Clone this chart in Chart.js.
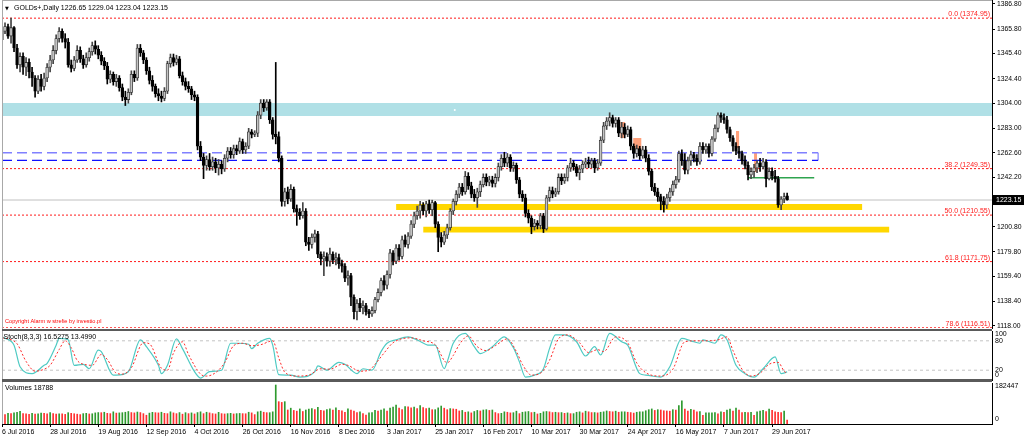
<!DOCTYPE html>
<html>
<head>
<meta charset="utf-8">
<title>GOLDs+ Daily</title>
<script src="https://cdn.jsdelivr.net/npm/chart.js@4.4.1/dist/chart.umd.min.js"></script>
<style>
html,body{margin:0;padding:0;background:#fff;}
#wrap{position:relative;width:1024px;height:440px;overflow:hidden;background:#fff;}
#wrap canvas{position:absolute;left:0;}
.sep{position:absolute;}
</style>
</head>
<body>
<div id="wrap">
  <canvas id="cMain" width="1024" height="329" style="top:0px"></canvas>
  <canvas id="cStoch" width="1024" height="53" style="top:329px"></canvas>
  <canvas id="cVol" width="1024" height="59" style="top:381px"></canvas>
  <div class="sep" style="left:2px;top:0;width:990px;height:1px;background:#a8a8a8"></div>
  <div class="sep" style="left:2px;top:0;width:1px;height:424px;background:#a8a8a8"></div>
  <div class="sep" style="left:2px;top:329px;width:990px;height:2px;background:#5a5a5a"></div>
  <div class="sep" style="left:2px;top:379px;width:990px;height:3px;background:#5a5a5a"></div>
</div>
<script>
const FONT = '"Liberation Sans", Arial, sans-serif';
Chart.defaults.font.family = FONT;
Chart.defaults.font.size = 7;
Chart.defaults.color = '#000';

// ---------------- data ----------------
const symbolName = 'GOLDs+';
const periodName = 'Daily';
const copyrightText = 'Copyright Alarm w strefie by investio.pl';

const barOpen = [
1357,1364,1368,1360,1367,1350,1336,1343,1334,1338,
1330,1325,1314,1324,1318,1325,1334,1340,1348,1358,
1364,1358,1355,1336,1333,1340,1348,1341,1336,1342,
1347,1352,1349,1344,1339,1335,1324,1328,1322,1325,
1317,1309,1307,1313,1328,1325,1350,1346,1340,1331,
1323,1318,1312,1310,1308,1314,1337,1342,1338,1341,
1327,1322,1318,1316,1311,1309,1268,1259,1252,1257,
1251,1255,1250,1253,1249,1258,1264,1261,1266,1264,
1272,1265,1268,1280,1278,1279,1294,1304,1300,1305,
1290,1278,1276,1258,1222,1230,1224,1232,1216,1213,
1210,1214,1188,1186,1192,1195,1178,1174,1176,1172,
1178,1173,1175,1170,1168,1158,1160,1142,1130,1137,
1133,1135,1130,1128,1131,1140,1146,1156,1152,1161,
1179,1172,1183,1176,1190,1186,1193,1203,1210,1214,
1219,1214,1220,1215,1221,1203,1192,1188,1194,1200,
1214,1222,1228,1234,1230,1243,1235,1228,1225,1230,
1236,1242,1238,1240,1237,1242,1251,1258,1254,1259,
1250,1252,1240,1228,1225,1212,1208,1201,1204,1202,
1210,1199,1225,1231,1228,1230,1242,1239,1242,1250,
1254,1251,1246,1249,1253,1255,1253,1256,1250,1254,
1273,1285,1289,1292,1287,1290,1279,1284,1278,1282,
1268,1262,1266,1260,1265,1258,1247,1234,1230,1226,
1222,1219,1225,1230,1236,1240,1262,1256,1248,1256,
1261,1258,1255,1268,1265,1268,1262,1274,1283,1294,
1292,1290,1282,1275,1268,1264,1262,1256,1252,1244,
1247,1250,1254,1251,1255,1241,1247,1243,1241,1219,
1224,1226.65];
const barHigh = [
1367,1371,1370,1375,1368,1353,1346,1346,1342,1341,
1334,1327,1327,1328,1329,1337,1344,1352,1361,1367,
1366,1362,1358,1340,1343,1352,1351,1344,1346,1350,
1355,1356,1352,1347,1342,1338,1331,1330,1328,1327,
1320,1314,1316,1331,1331,1353,1353,1348,1342,1334,
1327,1320,1316,1314,1317,1339,1345,1345,1344,1343,
1330,1325,1322,1318,1314,1311,1272,1262,1260,1262,
1259,1258,1257,1256,1261,1267,1267,1269,1269,1275,
1274,1271,1283,1282,1281,1297,1307,1307,1307,1307,
1292,1338,1280,1260,1233,1234,1236,1234,1219,1216,
1221,1216,1192,1195,1198,1197,1180,1180,1179,1183,
1180,1179,1178,1173,1170,1164,1162,1144,1140,1141,
1139,1137,1132,1134,1142,1149,1158,1160,1164,1182,
1181,1186,1186,1193,1194,1196,1206,1213,1218,1222,
1221,1222,1223,1223,1222,1205,1196,1197,1203,1216,
1224,1231,1237,1237,1247,1246,1238,1232,1233,1239,
1245,1245,1243,1243,1245,1254,1261,1263,1262,1261,
1255,1254,1242,1231,1228,1215,1210,1207,1206,1212,
1212,1227,1234,1234,1233,1245,1245,1245,1252,1258,
1256,1253,1252,1256,1258,1259,1258,1258,1257,1276,
1288,1292,1296,1294,1292,1292,1288,1287,1285,1284,
1270,1269,1268,1268,1268,1261,1249,1237,1233,1228,
1226,1228,1233,1239,1243,1264,1265,1262,1259,1264,
1263,1261,1271,1271,1270,1270,1276,1286,1296,1296,
1295,1293,1284,1277,1271,1268,1264,1260,1255,1250,
1253,1256,1258,1258,1257,1250,1250,1248,1243,1226,
1229,1229.04];
const barLow = [
1352,1362,1358,1354,1347,1333,1330,1328,1327,1325,
1318,1309,1312,1314,1315,1322,1330,1337,1345,1355,
1355,1350,1334,1330,1331,1338,1338,1333,1334,1339,
1344,1345,1341,1336,1332,1320,1321,1319,1318,1314,
1306,1302,1304,1311,1322,1323,1343,1337,1328,1320,
1314,1309,1306,1305,1306,1312,1334,1335,1336,1325,
1319,1315,1313,1307,1306,1265,1256,1241,1248,1248,
1248,1246,1244,1245,1247,1255,1258,1258,1261,1262,
1262,1262,1266,1275,1276,1276,1291,1297,1298,1287,
1274,1270,1255,1218,1218,1220,1222,1213,1202,1207,
1208,1185,1181,1183,1188,1175,1169,1160,1168,1168,
1170,1169,1166,1163,1155,1152,1135,1124,1123,1130,
1128,1127,1125,1126,1129,1138,1143,1148,1149,1158,
1169,1170,1173,1174,1184,1183,1191,1200,1207,1208,
1211,1209,1212,1210,1200,1180,1184,1186,1191,1198,
1211,1219,1225,1227,1228,1232,1225,1222,1217,1226,
1234,1235,1235,1234,1234,1239,1248,1251,1251,1247,
1247,1237,1225,1222,1209,1204,1195,1198,1199,1199,
1196,1198,1222,1225,1226,1228,1236,1237,1239,1247,
1248,1243,1240,1246,1250,1250,1250,1246,1248,1252,
1271,1282,1285,1284,1284,1276,1275,1275,1276,1265,
1258,1259,1257,1258,1255,1244,1231,1227,1222,1215,
1213,1216,1222,1227,1233,1238,1252,1245,1245,1252,
1255,1252,1253,1262,1262,1259,1260,1272,1280,1288,
1287,1279,1272,1264,1261,1258,1253,1249,1240,1241,
1242,1246,1247,1249,1234,1240,1240,1238,1217,1215,
1221,1223.04];
const barClose = [
1364,1368,1360,1367,1350,1336,1343,1334,1338,1330,
1325,1314,1324,1318,1325,1334,1340,1348,1358,1364,
1358,1355,1336,1333,1340,1348,1341,1336,1342,1347,
1352,1349,1344,1339,1335,1324,1328,1322,1325,1317,
1309,1307,1313,1328,1325,1350,1346,1340,1331,1323,
1318,1312,1310,1308,1314,1337,1342,1338,1341,1327,
1322,1318,1316,1311,1309,1268,1259,1252,1257,1251,
1255,1250,1253,1249,1258,1264,1261,1266,1264,1272,
1265,1268,1280,1278,1279,1294,1304,1300,1305,1290,
1278,1276,1258,1222,1230,1224,1232,1216,1213,1210,
1214,1188,1186,1192,1195,1178,1174,1176,1172,1178,
1173,1175,1170,1168,1158,1160,1142,1130,1137,1133,
1135,1130,1128,1131,1140,1146,1156,1152,1161,1179,
1172,1183,1176,1190,1186,1193,1203,1210,1214,1219,
1214,1220,1215,1221,1203,1192,1188,1194,1200,1214,
1222,1228,1234,1230,1243,1235,1228,1225,1230,1236,
1242,1238,1240,1237,1242,1251,1258,1254,1259,1250,
1252,1240,1228,1225,1212,1208,1201,1204,1202,1210,
1199,1225,1231,1228,1230,1242,1239,1242,1250,1254,
1251,1246,1249,1253,1255,1253,1256,1250,1254,1273,
1285,1289,1292,1287,1290,1279,1284,1278,1282,1268,
1262,1266,1260,1265,1258,1247,1234,1230,1226,1222,
1219,1225,1230,1236,1240,1262,1256,1248,1256,1261,
1258,1255,1268,1265,1268,1262,1274,1283,1294,1292,
1290,1282,1275,1268,1264,1262,1256,1252,1244,1247,
1250,1254,1251,1255,1241,1247,1243,1241,1219,1224,
1226,1223.15];

const volumes = [
48000,44000,50000,48500,52000,55000,59500,48500,47000,45000,
49500,46000,48000,51000,49500,47000,53500,48500,46000,48000,
47000,45000,53000,50000,48000,46000,44000,48500,50000,47000,
48000,52000,53500,53000,55000,50000,48500,57000,51000,52000,
53000,55000,58500,53500,52000,56000,53500,48500,41000,51000,
54500,53000,52000,55000,50000,48500,57000,52000,48500,53500,
46000,53000,48500,52000,47000,53500,57000,48500,55000,52000,
48500,47000,54500,48500,47000,48500,50000,47000,48500,49500,
48500,48000,55000,52000,44000,57000,60000,55000,53000,53000,
57000,182447,104500,101000,104500,65500,74000,63500,60000,70500,
58500,65500,69500,72000,67000,78000,63500,62000,67000,70500,
65500,75500,63500,62000,55000,70500,65500,60000,53500,57000,
48500,42000,52000,53500,63500,60000,65500,70500,61000,74000,
79000,89000,74000,67000,82000,80500,75500,79000,72000,86500,
77000,72000,74000,67000,67000,75500,84000,74000,67000,72000,
70500,69000,61000,63500,55000,57000,52000,58500,63500,61000,
65500,67000,63500,65500,53500,48500,50000,57000,55000,52000,
53000,60000,48500,55000,57000,58500,53500,55000,47000,50000,
57000,58500,57000,53500,55000,53000,53500,50000,52000,48500,
48500,55000,57000,52000,60000,57000,53500,53500,52000,55000,
57000,61000,58500,57000,60000,55000,57000,57000,55000,53500,
51000,55000,57000,57000,62000,67000,70500,63500,67000,65500,
62000,61000,60000,67000,65500,86500,108000,69500,61000,69000,
65500,57000,58500,40000,52000,52000,52000,53500,47000,57000,
55000,65500,69500,60000,74000,65500,53000,55000,53500,55000,
40000,57000,61000,63500,58500,69500,63500,57000,55000,53000,
61000,18788];

const stochParams = '8,3,3';
const stochKBars = [0,1,4,6,10,14,15,18,19,22,24,27,29,32,33,37,38,42,46,48,52,53,55,58,60,64,66,69,73,76,78,82,83,85,89,90,92,96,99,104,105,108,112,114,118,120,123,126,128,131,135,138,142,144,147,148,150,154,157,159,163,167,170,172,174,177,180,182,184,187,191,194,197,199,202,206,208,212,214,219,222,226,229,232,233,237,239,241,244,247,250,253,257,259,261];
const stochKValues = [88,85,71,27,13,30,34,71,85,82,30,32,23,61,58,10,10,17,82,68,30,13,30,84,64,17,4,17,20,75,75,73,64,75,85,71,11,10,6,17,29,20,36,32,13,23,20,58,75,82,88,82,71,71,23,37,75,95,68,54,68,88,66,37,6,10,23,64,92,92,78,49,68,51,95,78,71,13,10,6,27,85,80,75,82,75,92,82,30,13,6,23,47,13,16.5275];
const stochDBars = [0,2,5,8,11,14,16,19,21,23,25,28,30,33,35,38,40,43,47,49,53,55,57,60,62,66,68,71,74,77,80,83,86,90,92,94,98,102,106,109,113,115,119,122,124,127,130,136,140,144,148,150,152,155,158,161,164,168,171,173,176,179,182,185,188,192,195,198,200,204,208,211,214,219,223,227,231,234,238,241,243,246,249,252,255,258,260,261];
const stochDValues = [86,84,74,38,18,22,30,62,80,66,40,31,30,52,42,14,12,25,76,74,24,20,55,78,52,12,8,15,35,70,75,70,72,80,45,16,8,10,23,22,32,30,18,20,32,55,76,86,80,72,35,50,72,90,68,60,70,84,58,32,10,14,40,84,92,76,56,62,58,88,76,35,15,8,22,78,80,80,82,88,60,22,8,14,32,36,18,13.499];
const stochLabelTicks = [100, 80, 20, 0];
const stochLevels = [80, 20];

const dateTickLabels = ['6 Jul 2016','28 Jul 2016','19 Aug 2016','12 Sep 2016','4 Oct 2016','26 Oct 2016','16 Nov 2016','8 Dec 2016','3 Jan 2017','25 Jan 2017','16 Feb 2017','10 Mar 2017','30 Mar 2017','24 Apr 2017','16 May 2017','7 Jun 2017','29 Jun 2017'];
const dateTickEvery = 16;
const priceTicks = [1386.80,1365.80,1345.40,1324.40,1304.00,1283.00,1262.60,1242.20,1221.80,1200.80,1179.80,1159.40,1138.40,1118.00];
const volumeLabelTicks = [182447, 0];

const fibLevels = [0.0, 38.2, 50.0, 61.8, 78.6];
const fibPrices = [1374.95, 1249.35, 1210.55, 1171.75, 1116.51];

// drawn objects, in bar-index / price units
const resistanceZone = [1293.3, 1304.2];
const yellowStart = [131, 140];
const yellowEnd = [286, 295];
const yellowLow = [1214.8, 1196.0];
const yellowHigh = [1219.8, 1200.9];
const blueLevels = [1262.6, 1256.3];
const blueEnd = 271.3;
const greenLevel = 1241.8;
const greenStart = 248;
const greenEnd = 270;
const orangeStart = [205.5, 209.8, 244.0, 250.0];
const orangeEnd = [207.2, 212.6, 245.1, 251.0];
const orangeLow = [1275.0, 1262.4, 1266.6, 1246.5];
const orangeHigh = [1288.3, 1275.0, 1280.8, 1263.2];
const markerBar = 150.5, markerPrice = 1298.3;

// ---------------- helpers ----------------
const X_MIN = 0, X_MAX = 329.1;
const N = barClose.length - 1;

function hLine(x1, x2, v, color, width, dash, order) {
  return {type:'line', data:[{x:x1,y:v},{x:x2,y:v}], borderColor:color, borderWidth:width,
    borderDash:dash||[], pointRadius:0, pointHoverRadius:0, fill:false, tension:0, order:order};
}
function band(x1, x2, lo, hi, color, order) {
  return {type:'line', data:[{x:x1,y:hi},{x:x2,y:hi}], borderWidth:0, borderColor:'rgba(0,0,0,0)',
    backgroundColor:color, pointRadius:0, pointHoverRadius:0, fill:{value:lo}, tension:0, order:order};
}
function hiddenX() {
  return {type:'linear', min:X_MIN, max:X_MAX, offset:false, display:false, grid:{offset:false}};
}
function rightY(min, max) {
  return {type:'linear', position:'right', min:min, max:max, beginAtZero:false,
    ticks:{display:false}, grid:{display:false},
    border:{display:true, color:'#000', width:1},
    afterFit: s => { s.width = 32; s.paddingTop = 0; s.paddingBottom = 0; }};
}
function clampLabel(py, area) {
  return Math.min(Math.max(py, area.top + 3.5), area.bottom - 4.5);
}

// ---------------- main chart ----------------
const bull = barClose.map((c,i)=> c >= barOpen[i]);
const wickData = barHigh.map((h,i)=>({x:i, y:[barLow[i], h]}));
const bodyData = barClose.map((c,i)=>({x:i, y:[Math.min(c,barOpen[i]), Math.max(c,barOpen[i])]}));

const mainSets = [];
mainSets.push(band(X_MIN, X_MAX, resistanceZone[0], resistanceZone[1], '#b0e0e6', 100));
yellowStart.forEach((s,k)=> mainSets.push(band(s, yellowEnd[k], yellowLow[k], yellowHigh[k], '#ffd700', 90)));
orangeStart.forEach((s,k)=> mainSets.push(band(s, orangeEnd[k], orangeLow[k], orangeHigh[k], '#ffa07a', 85)));
mainSets.push(hLine(X_MIN, X_MAX, barClose[N], '#c0c0c0', 1, [], 70));
fibPrices.forEach(p=> mainSets.push(hLine(X_MIN, X_MAX, p, '#ff1a1a', 1, [2,2], 60)));
mainSets.push(hLine(X_MIN, blueEnd, blueLevels[0], '#8080ff', 1.6, [10,5], 50));
mainSets.push(hLine(X_MIN, blueEnd, blueLevels[1], '#1010ff', 1.2, [10,5], 50));
mainSets.push({type:'line', data:[{x:blueEnd,y:blueLevels[0]},{x:blueEnd,y:blueLevels[1]}], borderColor:'#8080ff', borderWidth:1.2, pointRadius:0, pointHoverRadius:0, fill:false, order:50});
mainSets.push(hLine(greenStart, greenEnd, greenLevel, '#2ea44f', 1.5, [], 40));
mainSets.push({type:'bar', data:wickData, backgroundColor: bull.map(b=> b ? '#444' : '#000'),
  barThickness:1, grouped:false, minBarLength:1, order:20});
mainSets.push({type:'bar', data:bodyData, backgroundColor: bull.map(b=> b ? '#c4c4c4' : '#000'),
  borderColor: bull.map(b=> b ? '#333' : '#000'), borderWidth:0.8, borderSkipped:false,
  barThickness:2.8, grouped:false, minBarLength:1, order:10});
mainSets.push({type:'scatter', data:[{x:markerBar, y:markerPrice}], pointRadius:1, pointHoverRadius:0, pointBackgroundColor:'#fff', pointBorderWidth:0, order:5});

const mainText = {
  id:'mainText',
  afterDraw(chart) {
    const {ctx, chartArea, scales:{y}} = chart;
    ctx.save();
    ctx.font = '7px ' + FONT;
    ctx.fillStyle = '#ff2020'; ctx.textAlign = 'right'; ctx.textBaseline = 'bottom';
    fibPrices.forEach((p,k)=>{
      const py = y.getPixelForValue(p);
      ctx.fillText(fibLevels[k].toFixed(1) + ' (' + p.toFixed(2) + ')', chartArea.right - 2, py - 0.5);
    });
    ctx.fillStyle = '#000'; ctx.textAlign = 'left'; ctx.textBaseline = 'middle';
    ctx.fillText(symbolName + ',' + periodName + ' ' +
      [barOpen[N], barHigh[N], barLow[N], barClose[N]].map(v=>v.toFixed(2)).join(' '), 14, 8.5);
    ctx.font = '5px "DejaVu Sans"';
    ctx.fillText('\u25BC', 5, 8.5);
    ctx.font = '5.6px ' + FONT; ctx.fillStyle = '#ff0000';
    ctx.fillText(copyrightText, 5, chartArea.bottom - 6.5);
    // bid label
    const py = y.getPixelForValue(barClose[N]);
    ctx.fillStyle = '#000'; ctx.fillRect(chartArea.right + 1, py - 5, 31, 10);
    ctx.fillStyle = '#fff'; ctx.font = '7px ' + FONT;
    ctx.fillText(barClose[N].toFixed(2), chartArea.right + 4, py + 0.5);
    ctx.restore();
  }
};

new Chart(document.getElementById('cMain'), {
  type:'bar',
  data:{datasets: mainSets},
  options:{
    responsive:false, animation:false, devicePixelRatio:1, events:[],
    layout:{autoPadding:false, padding:{left:2, top:0, right:0, bottom:1}},
    plugins:{legend:{display:false}, tooltip:{enabled:false}},
    scales:{
      x: hiddenX(),
      y: {type:'linear', position:'right', min:1116.32, max:1390.1, beginAtZero:false,
        afterBuildTicks: s => { s.ticks = priceTicks.map(v=>({value:v})); },
        afterFit: s => { s.width = 32; s.paddingTop = 0; s.paddingBottom = 0; },
        ticks:{autoSkip:false, padding:2, font:{size:6.8}, color:'#000', callback: v => Number(v).toFixed(2)},
        grid:{drawOnChartArea:false, drawTicks:true, tickLength:3, color:'#000'},
        border:{display:true, color:'#000', width:1}}
    }
  },
  plugins:[mainText]
});

// ---------------- stochastic ----------------
const stochText = {
  id:'stochText',
  afterDraw(chart) {
    const {ctx, chartArea, scales:{y}} = chart;
    ctx.save();
    ctx.font = '7px ' + FONT; ctx.fillStyle = '#000';
    ctx.textAlign = 'left'; ctx.textBaseline = 'middle';
    ctx.fillText('Stoch(' + stochParams + ') ' + stochKValues[stochKValues.length-1].toFixed(4) + ' ' +
      stochDValues[stochDValues.length-1].toFixed(4), 3.5, chartArea.top + 6);
    stochLabelTicks.forEach(v=>{
      ctx.fillText(String(v), chartArea.right + 3, clampLabel(y.getPixelForValue(v), chartArea));
    });
    ctx.restore();
  }
};
const stochSets = [];
stochLevels.forEach(l=> stochSets.push(hLine(X_MIN, X_MAX, l, '#c4c4c4', 1, [3,3], 50)));
stochSets.push({type:'line', data: stochKBars.map((b,k)=>({x:b, y:stochKValues[k]})), borderColor:'#4fcac3',
  borderWidth:1.2, pointRadius:0, pointHoverRadius:0, fill:false, cubicInterpolationMode:'monotone', order:2});
stochSets.push({type:'line', data: stochDBars.map((b,k)=>({x:b, y:stochDValues[k]})), borderColor:'#ff2a2a',
  borderWidth:1, borderDash:[2,2], pointRadius:0, pointHoverRadius:0, fill:false, cubicInterpolationMode:'monotone', order:1});

new Chart(document.getElementById('cStoch'), {
  type:'line',
  data:{datasets: stochSets},
  options:{
    responsive:false, animation:false, devicePixelRatio:1, events:[],
    layout:{autoPadding:false, padding:{left:2, top:2, right:0, bottom:2}},
    plugins:{legend:{display:false}, tooltip:{enabled:false}},
    scales:{ x: hiddenX(), y: rightY(0, 100) }
  },
  plugins:[stochText]
});

// ---------------- volumes ----------------
const volText = {
  id:'volText',
  afterDraw(chart) {
    const {ctx, chartArea, scales:{y}} = chart;
    ctx.save();
    ctx.font = '7px ' + FONT; ctx.fillStyle = '#000';
    ctx.textAlign = 'left'; ctx.textBaseline = 'middle';
    ctx.fillText('Volumes ' + volumes[N], 5, chartArea.top + 5);
    volumeLabelTicks.forEach(v=>{
      ctx.fillText(String(v), chartArea.right + 3, clampLabel(y.getPixelForValue(v), chartArea));
    });
    ctx.restore();
  }
};
const volColors = volumes.map((v,i)=> (i > 0 && v < volumes[i-1]) ? '#ff3030' : '#2e9a2e');

new Chart(document.getElementById('cVol'), {
  type:'bar',
  data:{datasets:[{data: volumes.map((v,i)=>({x:i, y:v})), backgroundColor: volColors,
    barThickness:1, grouped:false, minBarLength:1}]},
  options:{
    responsive:false, animation:false, devicePixelRatio:1, events:[],
    layout:{autoPadding:false, padding:{left:2, top:2, right:0, bottom:0}},
    plugins:{legend:{display:false}, tooltip:{enabled:false}},
    scales:{
      x:{type:'linear', min:X_MIN, max:X_MAX, offset:false,
        afterBuildTicks: s => { s.ticks = dateTickLabels.map((_,k)=>({value:k*dateTickEvery})); },
        afterFit: s => { s.height = 16; s.paddingLeft = 0; s.paddingRight = 0; },
        ticks:{autoSkip:false, maxRotation:0, minRotation:0, align:'start', padding:1, font:{size:7}, color:'#000',
          callback:(v,k)=> dateTickLabels[k]},
        grid:{drawOnChartArea:false, drawTicks:true, tickLength:3, color:'#000', offset:false},
        border:{display:true, color:'#000', width:1}},
      y: rightY(0, 191803)
    }
  },
  plugins:[volText]
});
</script>
</body>
</html>
